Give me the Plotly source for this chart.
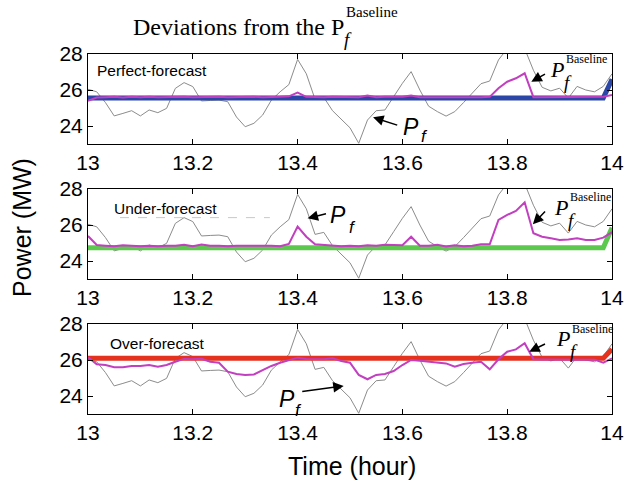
import plotly.graph_objects as go

W, H = 626, 484

# time axis: one sample per minute from 13:00 to 14:00
t = [13 + k / 60 for k in range(61)]

# actual power P_f (same in all panels)
p_actual = [26.04, 25.90, 25.30, 24.56, 24.70, 24.85, 24.56, 24.89, 24.74, 24.98,
            26.09, 26.41, 26.19, 25.39, 25.42, 25.44, 25.35, 24.50, 23.96, 24.15,
            24.61, 25.44, 25.90, 26.30, 27.70, 26.90, 25.48, 25.59, 24.85, 24.40,
            23.90, 23.04, 24.33, 24.85, 24.89, 25.63, 26.37, 27.02, 26.00, 25.10,
            24.80, 24.55, 24.80, 25.30, 25.80, 26.35, 26.50, 27.67, 28.30, 28.80,
            28.30, 27.10, 26.15, 25.95, 26.10, 25.55, 26.20, 26.00, 25.90, 26.20,
            26.90]

# adjusted power, one series per forecast case
p_perfect = [25.40, 25.58, 25.60, 25.62, 25.58, 25.62, 25.60, 25.63, 25.60, 25.62,
             25.60, 25.62, 25.60, 25.62, 25.60, 25.62, 25.60, 25.62, 25.60, 25.62,
             25.60, 25.60, 25.62, 25.65, 25.85, 25.62, 25.60, 25.60, 25.62, 25.60,
             25.62, 25.60, 25.70, 25.60, 25.62, 25.62, 25.62, 25.70, 25.60, 25.60,
             25.62, 25.60, 25.60, 25.62, 25.60, 25.60, 25.62, 26.10, 26.46, 26.65,
             26.93, 25.60, 25.60, 25.60, 25.62, 25.60, 25.62, 25.62, 25.60, 25.62,
             25.72]
p_under = [25.39, 24.89, 24.85, 24.82, 24.88, 24.85, 24.82, 24.85, 24.82, 24.85,
           24.85, 24.90, 24.82, 24.92, 24.85, 24.85, 24.82, 24.85, 24.85, 24.88,
           24.85, 24.85, 24.82, 24.95, 25.91, 25.35, 24.93, 24.90, 24.85, 24.82,
           24.85, 24.82, 24.88, 24.85, 24.90, 24.90, 24.88, 25.35, 24.85, 24.85,
           24.90, 24.80, 24.88, 24.82, 24.85, 24.93, 24.93, 26.28, 26.56, 26.78,
           27.26, 25.54, 25.35, 25.26, 25.17, 25.20, 25.26, 25.17, 25.17, 25.30,
           25.60]
p_over = [26.15, 25.76, 25.72, 25.60, 25.60, 25.67, 25.67, 25.72, 25.63, 25.72,
          25.90, 26.06, 26.04, 26.07, 25.90, 25.85, 25.35, 25.22, 25.17, 25.20,
          25.44, 25.67, 25.85, 26.00, 26.13, 26.06, 26.04, 26.04, 26.09, 25.94,
          25.85, 25.17, 24.93, 25.17, 25.22, 25.39, 25.72, 26.00, 25.96, 25.90,
          25.85, 25.81, 25.63, 25.78, 25.85, 25.90, 25.48, 26.04, 26.46, 26.59,
          26.93, 26.04, 26.03, 26.03, 26.02, 26.03, 26.03, 26.03, 26.02, 25.85,
          26.09]

# baseline schedules (flat until the last minute, then a step up)
t_base = [13.0, 13 + 59 / 60, 14.0]
base_perfect = [25.55, 25.55, 26.60]
base_under = [24.74, 24.74, 25.85]
base_over = [26.10, 26.10, 26.60]

x_ticks = [13.0, 13.2, 13.4, 13.6, 13.8, 14.0]
x_tick_text = ["13", "13.2", "13.4", "13.6", "13.8", "14"]
y_ticks = [24, 26, 28]
panel_names = ["Perfect-forecast", "Under-forecast", "Over-forecast"]

GREY = "#8c8c8c"
MAGENTA = "#c23fc0"
BASE_COLORS = ["#2b46a6", "#5cc84e", "#e4321f"]

SANS = "Liberation Sans, Arial, Helvetica, sans-serif"
SERIF = "Liberation Serif, Times New Roman, serif"

# pixel extents of the three panels
x_left, x_right = 88, 612
panel_px = [(54, 144), (189, 279), (324, 414)]


def px_x(p):
    return p / W


def px_y(p):
    return 1 - p / H


fig = go.Figure()

adjusted = [p_perfect, p_under, p_over]
baselines = [base_perfect, base_under, base_over]

for i in range(3):
    xa = "x" if i == 0 else f"x{i + 1}"
    ya = "y" if i == 0 else f"y{i + 1}"
    fig.add_trace(go.Scatter(x=t, y=p_actual, mode="lines", xaxis=xa, yaxis=ya,
                             line=dict(color=GREY, width=1), showlegend=False))
    fig.add_trace(go.Scatter(x=t_base, y=baselines[i], mode="lines", xaxis=xa, yaxis=ya,
                             line=dict(color=BASE_COLORS[i], width=5), showlegend=False))
    fig.add_trace(go.Scatter(x=t, y=adjusted[i], mode="lines", xaxis=xa, yaxis=ya,
                             line=dict(color=MAGENTA, width=2), showlegend=False))

    top, bot = panel_px[i]
    axis_common = dict(showline=True, linecolor="black", linewidth=1, mirror="ticks",
                       ticks="inside", ticklen=5, tickcolor="black", showgrid=False,
                       zeroline=False, automargin=False,
                       tickfont=dict(family=SANS, size=21, color="black"))
    xkey = "xaxis" if i == 0 else f"xaxis{i + 1}"
    ykey = "yaxis" if i == 0 else f"yaxis{i + 1}"
    fig.layout[xkey] = dict(axis_common, domain=[px_x(x_left), px_x(x_right)],
                            range=[13, 14], tickvals=x_ticks, ticktext=x_tick_text,
                            anchor=ya)
    fig.layout[ykey] = dict(axis_common, domain=[px_y(bot), px_y(top)],
                            range=[23, 28], tickvals=y_ticks, anchor=xa)

annotations = []


def text(xa, ya, x, y, s, size, family=SANS, xanchor="center", yanchor="middle",
         xshift=0, yshift=0):
    annotations.append(dict(xref=xa, yref=ya, x=x, y=y, text=s, showarrow=False,
                            xanchor=xanchor, yanchor=yanchor, xshift=xshift,
                            yshift=yshift, borderpad=0,
                            font=dict(family=family, size=size, color="black")))


def arrow(xa, ya, tail, head):
    annotations.append(dict(xref=xa, yref=ya, axref=xa, ayref=ya,
                            x=head[0], y=head[1], ax=tail[0], ay=tail[1], text="",
                            showarrow=True, arrowhead=2, arrowsize=1.4, arrowwidth=1.5,
                            arrowcolor="black", standoff=0, startstandoff=0))


def baseline_label(xa, ya, x0, y0):
    # P with subscript f and superscript "Baseline" stacked to its right
    text(xa, ya, x0, y0, "<i>P</i>", 22, SERIF, xanchor="right")
    text(xa, ya, x0, y0, "<i>f</i>", 19, SERIF, xanchor="left", xshift=-2, yshift=-13)
    text(xa, ya, x0, y0, "Baseline", 12, SERIF, xanchor="left", yshift=10)


def pf_label(xa, ya, p_xy, f_xy):
    text(xa, ya, p_xy[0], p_xy[1], "<i>P</i>", 23)
    text(xa, ya, f_xy[0], f_xy[1], "<i>f</i>", 17)


# panel 1
text("x", "y", 13.015, 27.07, panel_names[0], 15.5, xanchor="left")
arrow("x", "y", (13.593, 24.02), (13.544, 24.48))
pf_label("x", "y", (13.617, 23.93), (13.642, 23.42))
arrow("x", "y", (13.875, 26.93), (13.846, 26.46))
baseline_label("x", "y", 13.911, 27.15)

# panel 2
text("x2", "y2", 13.048, 26.93, panel_names[1], 15.5, xanchor="left")
arrow("x2", "y2", (13.457, 26.65), (13.419, 26.37))
pf_label("x2", "y2", (13.478, 26.53), (13.504, 25.88))
arrow("x2", "y2", (13.875, 26.83), (13.849, 26.04))
baseline_label("x2", "y2", 13.918, 26.98)

# panel 3
text("x3", "y3", 13.041, 26.93, panel_names[2], 15.5, xanchor="left")
arrow("x3", "y3", (13.406, 24.24), (13.488, 24.56))
pf_label("x3", "y3", (13.380, 23.85), (13.402, 23.22))
arrow("x3", "y3", (13.875, 26.93), (13.842, 26.46))
baseline_label("x3", "y3", 13.921, 27.17)

# faint dashed rule under the under-forecast label
fig.add_shape(type="line", xref="x2", yref="y2", x0=13.061, x1=13.347, y0=26.41, y1=26.41,
              line=dict(color="#c8c8c8", width=1, dash="dash"))

# title: Deviations from the P_f^Baseline
text("paper", "paper", px_x(345), px_y(27), "Deviations from the P", 24, SERIF,
     xanchor="right")
text("paper", "paper", px_x(343), px_y(39), "<i>f</i>", 19, SERIF, xanchor="left")
text("paper", "paper", px_x(345), px_y(12), "Baseline", 15, SERIF, xanchor="left")

# axis titles
text("paper", "paper", px_x(22), px_y(228), "Power (MW)", 25)
annotations[-1]["textangle"] = -90
text("paper", "paper", px_x(352), px_y(466), "Time (hour)", 25)

fig.update_layout(width=W, height=H, margin=dict(l=0, r=0, t=0, b=0),
                  paper_bgcolor="white", plot_bgcolor="white",
                  annotations=annotations, showlegend=False)

fig.write_html("out.html")
